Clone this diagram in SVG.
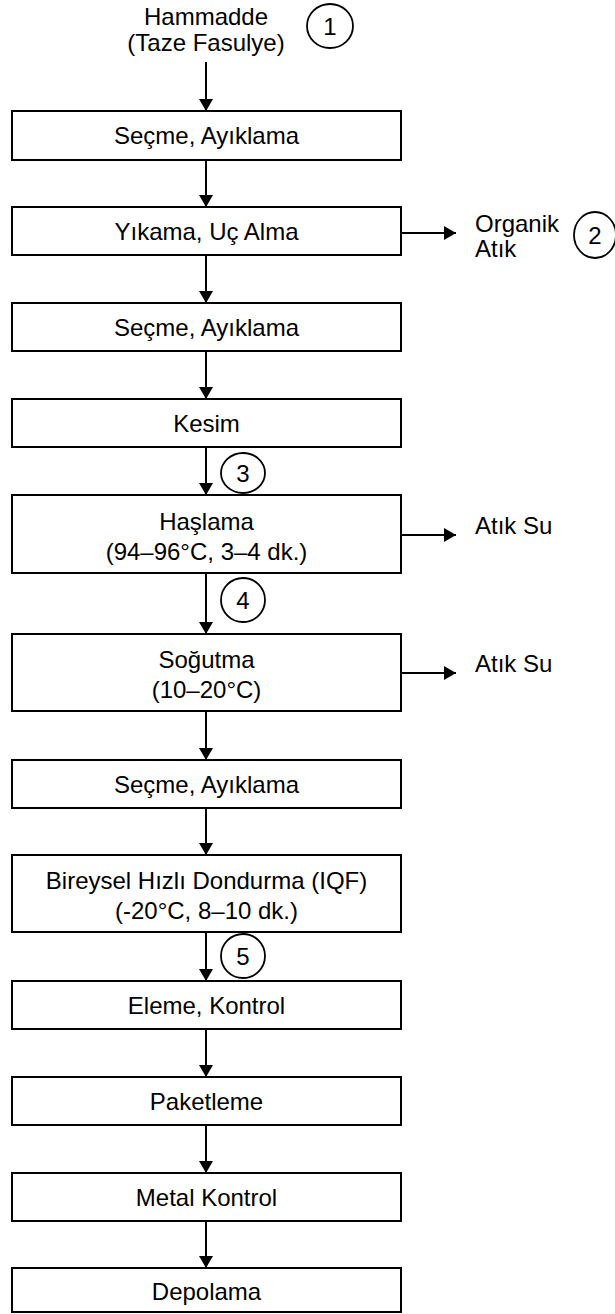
<svg xmlns="http://www.w3.org/2000/svg" width="615" height="1314" viewBox="0 0 615 1314">
<defs>
<marker id="ah" viewBox="0 0 12 14" refX="12" refY="7" markerWidth="12" markerHeight="14" markerUnits="userSpaceOnUse" orient="auto">
<path d="M0,0 L12,7 L0,14 Z" fill="#000"/>
</marker>
</defs>
<style>
.box{fill:#fff;stroke:#000;stroke-width:2}
.t{font-family:"Liberation Sans",Arial,sans-serif;font-size:24px;fill:#000;text-anchor:middle}
.l{font-family:"Liberation Sans",Arial,sans-serif;font-size:24px;fill:#000}
.c{fill:none;stroke:#000;stroke-width:1.8}
.e{stroke:#000;stroke-width:2;fill:none;marker-end:url(#ah)}
</style>
<rect width="615" height="1314" fill="#fff"/>
<g id="connectors">
<line class="e" x1="206" y1="62" x2="206" y2="111"/>
<line class="e" x1="206" y1="160" x2="206" y2="207"/>
<line class="e" x1="206" y1="255" x2="206" y2="303"/>
<line class="e" x1="206" y1="351" x2="206" y2="399"/>
<line class="e" x1="206" y1="447" x2="206" y2="495"/>
<line class="e" x1="206" y1="573" x2="206" y2="634"/>
<line class="e" x1="206" y1="711" x2="206" y2="760"/>
<line class="e" x1="206" y1="808" x2="206" y2="855"/>
<line class="e" x1="206" y1="932" x2="206" y2="981"/>
<line class="e" x1="206" y1="1029" x2="206" y2="1077"/>
<line class="e" x1="206" y1="1125" x2="206" y2="1173"/>
<line class="e" x1="206" y1="1221" x2="206" y2="1268"/>
<line class="e" x1="401" y1="233" x2="456" y2="233"/>
<line class="e" x1="401" y1="535" x2="456" y2="535"/>
<line class="e" x1="401" y1="673" x2="456" y2="673"/>
</g>
<g id="start">
<text class="t" x="206" y="25">Hammadde</text>
<text class="t" x="206" y="51">(Taze Fasulye)</text>
</g>
<g id="m1"><ellipse class="c" cx="330" cy="26" rx="23" ry="22"/><text class="t" x="330" y="35">1</text></g>
<g id="n1"><rect class="box" x="12" y="111" width="389" height="49"/><text class="t" x="206.5" y="144">Seçme, Ayıklama</text></g>
<g id="n2"><rect class="box" x="12" y="207" width="389" height="48"/><text class="t" x="206.5" y="240">Yıkama, Uç Alma</text></g>
<g id="w1"><text class="l" x="475" y="232">Organik</text><text class="l" x="475" y="257">Atık</text></g>
<g id="m2"><ellipse class="c" cx="595" cy="235" rx="21" ry="23"/><text class="t" x="595" y="244">2</text></g>
<g id="n3"><rect class="box" x="12" y="303" width="389" height="48"/><text class="t" x="206.5" y="336">Seçme, Ayıklama</text></g>
<g id="n4"><rect class="box" x="12" y="399" width="389" height="48"/><text class="t" x="206.5" y="432">Kesim</text></g>
<g id="m3"><ellipse class="c" cx="243" cy="473" rx="22" ry="20"/><text class="t" x="243" y="482">3</text></g>
<g id="n5"><rect class="box" x="12" y="495" width="389" height="78"/><text class="t" x="206.5" y="530">Haşlama</text><text class="t" x="206.5" y="560">(94–96°C, 3–4 dk.)</text></g>
<g id="w2"><text class="l" x="475" y="534">Atık Su</text></g>
<g id="m4"><ellipse class="c" cx="243" cy="600" rx="22" ry="22"/><text class="t" x="243" y="609">4</text></g>
<g id="n6"><rect class="box" x="12" y="634" width="389" height="77"/><text class="t" x="206.5" y="668">Soğutma</text><text class="t" x="206.5" y="698">(10–20°C)</text></g>
<g id="w3"><text class="l" x="475" y="672">Atık Su</text></g>
<g id="n7"><rect class="box" x="12" y="760" width="389" height="48"/><text class="t" x="206.5" y="793">Seçme, Ayıklama</text></g>
<g id="n8"><rect class="box" x="12" y="855" width="389" height="77"/><text class="t" x="206.5" y="889">Bireysel Hızlı Dondurma (IQF)</text><text class="t" x="206.5" y="919">(-20°C, 8–10 dk.)</text></g>
<g id="m5"><ellipse class="c" cx="243" cy="956" rx="22" ry="22"/><text class="t" x="243" y="965">5</text></g>
<g id="n9"><rect class="box" x="12" y="981" width="389" height="48"/><text class="t" x="206.5" y="1014">Eleme, Kontrol</text></g>
<g id="n10"><rect class="box" x="12" y="1077" width="389" height="48"/><text class="t" x="206.5" y="1110">Paketleme</text></g>
<g id="n11"><rect class="box" x="12" y="1173" width="389" height="48"/><text class="t" x="206.5" y="1206">Metal Kontrol</text></g>
<g id="n12"><rect class="box" x="12" y="1268" width="389" height="44"/><text class="t" x="206.5" y="1300">Depolama</text></g>
</svg>
